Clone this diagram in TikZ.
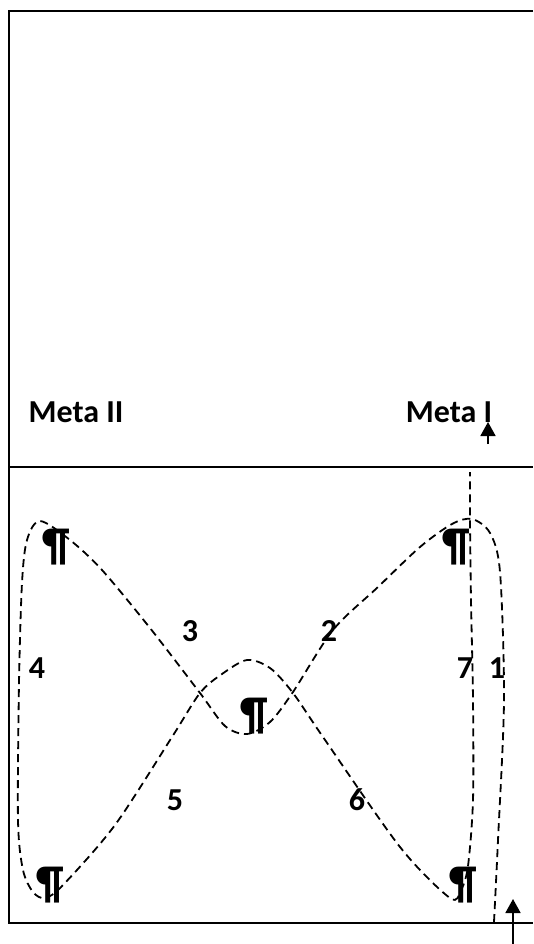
\documentclass[tikz,border=0pt]{standalone}
\usepackage{fontspec}
\setmainfont{Carlito}
\usetikzlibrary{arrows.meta}
\tikzset{
  frame/.style = {line width=2.2pt},
  walk/.style  = {line width=1.8pt, dash pattern=on 8pt off 5pt},
  lbl/.style   = {inner sep=0pt, font=\bfseries\fontsize{32}{38}\selectfont},
  para/.style  = {inner sep=0pt, font=\bfseries\fontsize{46}{50}\selectfont},
  arrow/.style = {-{Triangle[length=14pt, width=15pt]}, line width=1.8pt},
}

\begin{document}
\begin{tikzpicture}[x=1pt, y=-1pt]
  \useasboundingbox (0,0) rectangle (533,944);

  % Frame: two panels
  \coordinate (tl) at (9,11);   \coordinate (tr) at (533,11);
  \coordinate (ml) at (9,467);  \coordinate (mr) at (533,467);
  \coordinate (bl) at (9,923);  \coordinate (br) at (533,923);
  \draw[frame] (tr) -- (tl) -- (bl) -- (br);
  \draw[frame] (ml) -- (mr);

  % Top panel labels
  \node[lbl] (metaII) at (76,412)  {Meta II};
  \node[lbl] (metaI)  at (449,412) {Meta I};

  % Entry arrows
  \coordinate (inA)  at (488,444);
  \coordinate (tipA) at (488,422);
  \coordinate (inB)  at (513,944);
  \coordinate (tipB) at (513,899);
  \draw[arrow] (inA) -- (tipA);
  \draw[arrow] (inB) -- (tipB);

  % Stations
  \node[para] (pTL) at (56,547)  {¶};
  \node[para] (pTR) at (456,547) {¶};
  \node[para] (pC)  at (254,716) {¶};
  \node[para] (pBL) at (50,885)  {¶};
  \node[para] (pBR) at (463,885) {¶};

  % Walk
  \draw[walk] plot[smooth, tension=0.5] coordinates {
    (494,922) (498,840) (504,700) (500,572) (490,533) (472,519)
    (452,524) (420,547) (378,587) (333,630) (293,692) (270,722)
    (247,734) (225,726) (200,693) (150,628) (102,570) (70,540)
    (40,521) (27,540) (22,583) (19,683) (18,820) (23,870)
    (33,892) (45,898) (63,885) (115,825) (172,737) (200,693)
    (222,674) (247,660) (270,668) (293,693) (323,737) (400,847)
    (450,898) (461,890) (468,866) (473,800) (473,700) (471,600)
    (470,520) (470,472)};

  % Leg numbers
  \node[lbl] (n1) at (497,668) {1};
  \node[lbl] (n2) at (329,631) {2};
  \node[lbl] (n3) at (190,631) {3};
  \node[lbl] (n4) at (37,668)  {4};
  \node[lbl] (n5) at (175,800) {5};
  \node[lbl] (n6) at (357,800) {6};
  \node[lbl] (n7) at (465,668) {7};
\end{tikzpicture}
\end{document}
